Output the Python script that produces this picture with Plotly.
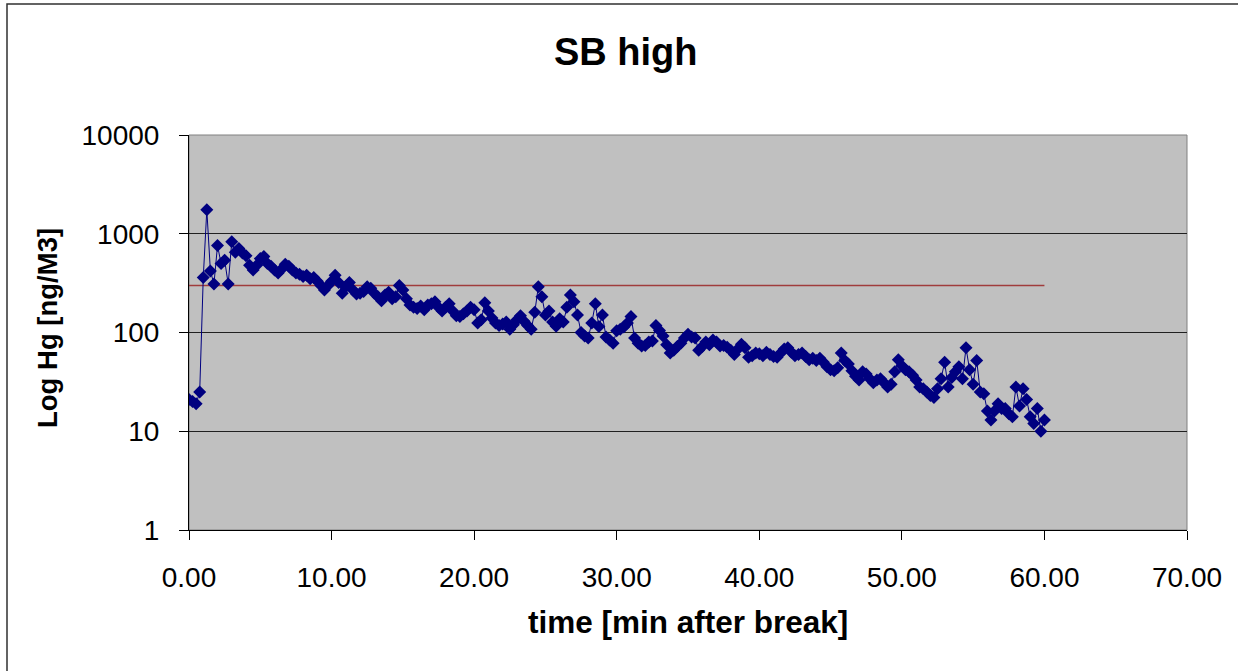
import numpy as np
import plotly.graph_objects as go

# sample times, minutes after break (one reading every 15 s)
time_min = np.arange(0, 60.001, 0.25)

# Hg concentration [ng/m3] (4 readings per minute)
hg = [
    21, 20, 19, 25,          # 0
    360, 1750, 420, 310,     # 1
    760, 500, 540, 310,      # 2
    830, 650, 710, 640,      # 3
    600, 480, 430, 480,      # 4
    560, 590, 500, 470,      # 5
    430, 400, 440, 490,      # 6
    470, 430, 400, 390,      # 7
    370, 380, 350, 360,      # 8
    330, 300, 270, 300,      # 9
    330, 380, 320, 250,      # 10
    290, 320, 270, 245,      # 11
    250, 260, 290, 280,      # 12
    250, 230, 210, 240,      # 13
    255, 220, 230, 300,      # 14
    270, 220, 190, 180,      # 15
    175, 185, 170, 190,      # 16
    195, 205, 180, 165,      # 17
    180, 195, 165, 148,      # 18
    145, 155, 165, 180,      # 19
    170, 125, 135, 200,      # 20
    165, 140, 125, 118,      # 21
    122, 128, 108, 120,      # 22
    135, 148, 130, 118,      # 23
    108, 160, 290, 230,      # 24
    150, 165, 128, 116,      # 25
    138, 128, 180, 240,      # 26
    205, 150, 100, 92,       # 27
    88, 125, 195, 115,       # 28
    150, 90, 84, 78,         # 29
    104, 108, 114, 125,      # 30
    145, 88, 78, 73,         # 31
    74, 80, 82, 118,         # 32
    105, 92, 75, 62,         # 33
    66, 72, 78, 88,          # 34
    96, 90, 88, 66,          # 35
    72, 80, 75, 84,          # 36
    80, 73, 74, 71,          # 37
    66, 60, 68, 76,          # 38
    70, 56, 58, 62,          # 39
    61, 58, 63, 60,          # 40
    57, 56, 62, 68,          # 41
    70, 63, 58, 60,          # 42
    62, 57, 53, 55,          # 43
    52, 55, 50, 45,          # 44
    42, 41, 44, 62,          # 45
    52, 48, 41, 36,          # 46
    33, 40, 38, 34,          # 47
    31, 33, 34, 31,          # 48
    28, 30, 40, 53,          # 49
    46, 42, 40, 37,          # 50
    33, 28, 27, 25,          # 51
    23, 22, 27, 34,          # 52
    50, 28, 35, 40,          # 53
    45, 34, 70, 42,          # 54
    30, 52, 25, 24,          # 55
    16, 13, 16, 19,          # 56
    17, 17, 15, 14,          # 57
    28, 18, 27, 21,          # 58
    14, 12, 17, 10,          # 59
    13,                      # 60
]

# limit line
limit_x = [0, 60]
limit_y = [300, 300]

x_ticks = [0, 10, 20, 30, 40, 50, 60, 70]
y_ticks = [1, 10, 100, 1000, 10000]

# body margin is removed in the page, so figure coords = screen coords
W, H = 1238, 671
L, R, T, B = 189, 1187, 135, 530


def px(x):
    return (x - L) / (R - L)


def py(y):
    return (B - y) / (B - T)


fig = go.Figure()

fig.add_trace(go.Scatter(
    x=limit_x, y=limit_y, mode="lines",
    line=dict(color="#A03C3C", width=1.5),
    hoverinfo="skip",
))

fig.add_trace(go.Scatter(
    x=time_min, y=hg, mode="lines+markers",
    line=dict(color="#000080", width=1),
    marker=dict(symbol="diamond", size=10, color="#000080"),
))

font = "Liberation Sans, Arial, sans-serif"

fig.update_xaxes(
    range=[0, 70], tickvals=x_ticks, tickformat=".2f",
    showgrid=False, zeroline=False,
    showline=True, linecolor="black", linewidth=1,
    ticks="outside", ticklen=9, tickcolor="black",
    tickfont=dict(family=font, size=28, color="black"),
    ticklabelstandoff=13,
)
fig.update_yaxes(
    type="log", range=[0, 4], tickvals=y_ticks,
    ticktext=[str(v) for v in y_ticks],
    showgrid=True, gridcolor="#202020", gridwidth=1,
    zeroline=False,
    showline=True, linecolor="black", linewidth=1,
    ticks="outside", ticklen=9, tickcolor="black",
    tickfont=dict(family=font, size=28, color="black"),
    ticklabelstandoff=14,
)

fig.update_layout(
    width=W, height=H, autosize=False,
    margin=dict(l=L, r=W - R, t=T, b=H - B),
    paper_bgcolor="white", plot_bgcolor="#C0C0C0",
    showlegend=False,
    shapes=[
        # gray plot-area border (top / right)
        dict(type="rect", xref="paper", yref="paper", x0=0, x1=1, y0=0, y1=1,
             line=dict(color="#808080", width=1), layer="below"),
        # outer chart frame
        dict(type="rect", xref="paper", yref="paper",
             x0=px(7), x1=px(1260), y0=py(690), y1=py(4),
             line=dict(color="#303030", width=1.5)),
    ],
    annotations=[
        dict(text="<b>SB high</b>", xref="paper", yref="paper",
             x=px(626), y=py(52), xanchor="center", yanchor="middle",
             showarrow=False, font=dict(family=font, size=38, color="black")),
        dict(text="<b>Log Hg [ng/M3]</b>", xref="paper", yref="paper",
             x=px(47), y=py(328), xanchor="center", yanchor="middle",
             textangle=-90, showarrow=False,
             font=dict(family=font, size=27.5, color="black")),
        dict(text="<b>time [min after break]</b>", xref="paper", yref="paper",
             x=px(688), y=py(622), xanchor="center", yanchor="middle",
             showarrow=False, font=dict(family=font, size=31.5, color="black")),
    ],
)

fig.write_html("out.html",
               config={"displayModeBar": False},
               post_script="document.body.style.margin='0';"
                           "document.body.style.overflow='hidden';")
